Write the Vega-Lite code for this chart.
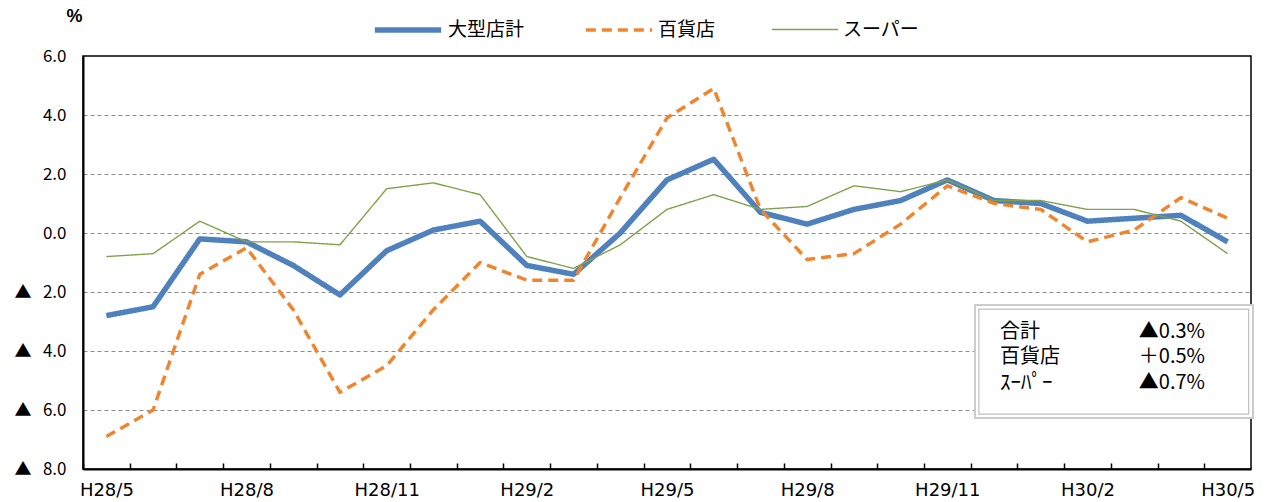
{
  "$schema": "https://vega.github.io/schema/vega-lite/v6.json",
  "width": 1168,
  "height": 413,
  "autosize": {"type": "none"},
  "padding": {"left": 83, "top": 56, "right": 16, "bottom": 33},
  "background": "white",
  "config": {
    "view": {"stroke": "black", "strokeWidth": 1.5},
    "font": "Liberation Sans",
    "legend": {
      "orient": "none",
      "legendX": 289,
      "legendY": -62,
      "direction": "horizontal",
      "title": null,
      "symbolType": "stroke",
      "symbolSize": 4400,
      "labelFontSize": 19,
      "labelFont": "Noto Sans CJK JP",
      "labelColor": "black",
      "columnPadding": 53,
      "labelOffset": 4
    }
  },
  "resolve": {"scale": {"x": "independent"}},
  "layer": [
    {
      "data": {
        "values": [
          {"month": "H28/5", "series": "大型店計", "value": -2.8},
          {"month": "H28/6", "series": "大型店計", "value": -2.5},
          {"month": "H28/7", "series": "大型店計", "value": -0.2},
          {"month": "H28/8", "series": "大型店計", "value": -0.3},
          {"month": "H28/9", "series": "大型店計", "value": -1.1},
          {"month": "H28/10", "series": "大型店計", "value": -2.1},
          {"month": "H28/11", "series": "大型店計", "value": -0.6},
          {"month": "H28/12", "series": "大型店計", "value": 0.1},
          {"month": "H29/1", "series": "大型店計", "value": 0.4},
          {"month": "H29/2", "series": "大型店計", "value": -1.1},
          {"month": "H29/3", "series": "大型店計", "value": -1.4},
          {"month": "H29/4", "series": "大型店計", "value": 0.0},
          {"month": "H29/5", "series": "大型店計", "value": 1.8},
          {"month": "H29/6", "series": "大型店計", "value": 2.5},
          {"month": "H29/7", "series": "大型店計", "value": 0.7},
          {"month": "H29/8", "series": "大型店計", "value": 0.3},
          {"month": "H29/9", "series": "大型店計", "value": 0.8},
          {"month": "H29/10", "series": "大型店計", "value": 1.1},
          {"month": "H29/11", "series": "大型店計", "value": 1.8},
          {"month": "H29/12", "series": "大型店計", "value": 1.1},
          {"month": "H30/1", "series": "大型店計", "value": 1.0},
          {"month": "H30/2", "series": "大型店計", "value": 0.4},
          {"month": "H30/3", "series": "大型店計", "value": 0.5},
          {"month": "H30/4", "series": "大型店計", "value": 0.6},
          {"month": "H30/5", "series": "大型店計", "value": -0.3},
          {"month": "H28/5", "series": "百貨店", "value": -6.9},
          {"month": "H28/6", "series": "百貨店", "value": -6.0},
          {"month": "H28/7", "series": "百貨店", "value": -1.4},
          {"month": "H28/8", "series": "百貨店", "value": -0.5},
          {"month": "H28/9", "series": "百貨店", "value": -2.6},
          {"month": "H28/10", "series": "百貨店", "value": -5.4},
          {"month": "H28/11", "series": "百貨店", "value": -4.5},
          {"month": "H28/12", "series": "百貨店", "value": -2.6},
          {"month": "H29/1", "series": "百貨店", "value": -1.0},
          {"month": "H29/2", "series": "百貨店", "value": -1.6},
          {"month": "H29/3", "series": "百貨店", "value": -1.6},
          {"month": "H29/4", "series": "百貨店", "value": 1.2},
          {"month": "H29/5", "series": "百貨店", "value": 3.9},
          {"month": "H29/6", "series": "百貨店", "value": 4.9},
          {"month": "H29/7", "series": "百貨店", "value": 0.8},
          {"month": "H29/8", "series": "百貨店", "value": -0.9},
          {"month": "H29/9", "series": "百貨店", "value": -0.7},
          {"month": "H29/10", "series": "百貨店", "value": 0.3},
          {"month": "H29/11", "series": "百貨店", "value": 1.6},
          {"month": "H29/12", "series": "百貨店", "value": 1.0},
          {"month": "H30/1", "series": "百貨店", "value": 0.8},
          {"month": "H30/2", "series": "百貨店", "value": -0.3},
          {"month": "H30/3", "series": "百貨店", "value": 0.1},
          {"month": "H30/4", "series": "百貨店", "value": 1.2},
          {"month": "H30/5", "series": "百貨店", "value": 0.5},
          {"month": "H28/5", "series": "スーパー", "value": -0.8},
          {"month": "H28/6", "series": "スーパー", "value": -0.7},
          {"month": "H28/7", "series": "スーパー", "value": 0.4},
          {"month": "H28/8", "series": "スーパー", "value": -0.3},
          {"month": "H28/9", "series": "スーパー", "value": -0.3},
          {"month": "H28/10", "series": "スーパー", "value": -0.4},
          {"month": "H28/11", "series": "スーパー", "value": 1.5},
          {"month": "H28/12", "series": "スーパー", "value": 1.7},
          {"month": "H29/1", "series": "スーパー", "value": 1.3},
          {"month": "H29/2", "series": "スーパー", "value": -0.8},
          {"month": "H29/3", "series": "スーパー", "value": -1.2},
          {"month": "H29/4", "series": "スーパー", "value": -0.4},
          {"month": "H29/5", "series": "スーパー", "value": 0.8},
          {"month": "H29/6", "series": "スーパー", "value": 1.3},
          {"month": "H29/7", "series": "スーパー", "value": 0.8},
          {"month": "H29/8", "series": "スーパー", "value": 0.9},
          {"month": "H29/9", "series": "スーパー", "value": 1.6},
          {"month": "H29/10", "series": "スーパー", "value": 1.4},
          {"month": "H29/11", "series": "スーパー", "value": 1.8},
          {"month": "H29/12", "series": "スーパー", "value": 1.1},
          {"month": "H30/1", "series": "スーパー", "value": 1.1},
          {"month": "H30/2", "series": "スーパー", "value": 0.8},
          {"month": "H30/3", "series": "スーパー", "value": 0.8},
          {"month": "H30/4", "series": "スーパー", "value": 0.4},
          {"month": "H30/5", "series": "スーパー", "value": -0.7}
        ]
      },
      "mark": {"type": "line", "strokeJoin": "round"},
      "encoding": {
        "x": {
          "field": "month",
          "type": "ordinal",
          "sort": null,
          "scale": {"type": "band", "paddingInner": 0, "paddingOuter": 0},
          "axis": {
            "title": null,
            "values": ["H28/5","H28/6","H28/7","H28/8","H28/9","H28/10","H28/11","H28/12","H29/1","H29/2","H29/3","H29/4","H29/5","H29/6","H29/7","H29/8","H29/9","H29/10","H29/11","H29/12","H30/1","H30/2","H30/3","H30/4","H30/5"],
            "labelExpr": "indexof(['H28/5','H28/8','H28/11','H29/2','H29/5','H29/8','H29/11','H30/2','H30/5'], datum.value) >= 0 ? datum.value : ''",
            "labelAngle": 0,
            "labelFont": "DejaVu Sans",
            "labelFontSize": 18,
            "labelColor": "black",
            "labelOverlap": false,
            "labelBound": false,
            "labelPadding": 18,
            "tickOffset": -23.36,
            "labelOffset": 23.36,
            "tickSize": -6,
            "tickColor": "black",
            "tickWidth": 1.5,
            "domainColor": "black",
            "domainWidth": 2,
            "grid": false
          }
        },
        "y": {
          "field": "value",
          "type": "quantitative",
          "scale": {"domain": [-8, 6], "nice": false},
          "axis": {
            "values": [-8, -6, -4, -2, 0, 2, 4, 6],
            "labelExpr": "datum.value < 0 ? '▲\u00a0\u00a0\u00a0' + format(-datum.value, '.1f') : format(datum.value, '.1f')",
            "ticks": false,
            "labelPadding": 17,
            "labelFont": "Noto Sans CJK JP",
            "labelFontSize": 17,
            "labelColor": "black",
            "domainColor": "black",
            "domainWidth": 2,
            "grid": true,
            "gridColor": "#8c8c8c",
            "gridDash": [4, 3],
            "gridWidth": 1.2,
            "gridOpacity": {"condition": {"test": "datum.value == 6 || datum.value == -8", "value": 0}, "value": 1},
            "title": "%",
            "titleAngle": 0,
            "titleX": -1,
            "titleY": -40,
            "titleAlign": "right",
            "titleBaseline": "middle",
            "titleFontSize": 18,
            "titleFontWeight": "bold",
            "titleColor": "black"
          }
        },
        "color": {
          "field": "series",
          "type": "nominal",
          "scale": {"domain": ["大型店計", "百貨店", "スーパー"], "range": ["#4F81BD", "#F0852F", "#7FA24A"]}
        },
        "strokeDash": {
          "field": "series",
          "type": "nominal",
          "scale": {"domain": ["大型店計", "百貨店", "スーパー"], "range": [[1, 0], [10, 6], [1, 0]]}
        },
        "strokeWidth": {
          "field": "series",
          "type": "nominal",
          "scale": {"domain": ["大型店計", "百貨店", "スーパー"], "range": [5.5, 1.4, 1.5]}
        }
      }
    },
    {
      "data": {"values": [{}]},
      "mark": {"type": "rect", "fill": "white", "stroke": "#cccccc", "strokeWidth": 2},
      "encoding": {
        "x": {"datum": 0.7637, "type": "quantitative", "scale": {"domain": [0, 1]}, "axis": null},
        "x2": {"datum": 1.0017},
        "y": {"datum": -2.44, "type": "quantitative"},
        "y2": {"datum": -6.27}
      }
    },
    {
      "data": {"values": [{}]},
      "mark": {"type": "rect", "fill": "white", "stroke": "#c0c0c0", "strokeWidth": 1.2},
      "encoding": {
        "x": {"datum": 0.767, "type": "quantitative", "scale": {"domain": [0, 1]}, "axis": null},
        "x2": {"datum": 0.998},
        "y": {"datum": -2.58, "type": "quantitative"},
        "y2": {"datum": -6.14}
      }
    },
    {
      "data": {"values": [{"label": "合計", "figure": "▲0.3%"}]},
      "layer": [
        {
          "mark": {"type": "text", "align": "left", "baseline": "middle", "font": "Noto Sans CJK JP", "fontSize": 20, "color": "black"},
          "encoding": {
            "x": {"datum": 0.785, "type": "quantitative", "scale": {"domain": [0, 1]}, "axis": null},
            "y": {"datum": -3.36, "type": "quantitative"},
            "text": {"field": "label"}
          }
        },
        {
          "mark": {"type": "text", "align": "right", "baseline": "middle", "font": "Noto Sans CJK JP", "fontSize": 20, "color": "black"},
          "encoding": {
            "x": {"datum": 0.9606, "type": "quantitative", "scale": {"domain": [0, 1]}, "axis": null},
            "y": {"datum": -3.36, "type": "quantitative"},
            "text": {"field": "figure"}
          }
        }
      ]
    },
    {
      "data": {"values": [{"label": "百貨店", "figure": "＋0.5%"}]},
      "layer": [
        {
          "mark": {"type": "text", "align": "left", "baseline": "middle", "font": "Noto Sans CJK JP", "fontSize": 20, "color": "black"},
          "encoding": {
            "x": {"datum": 0.785, "type": "quantitative", "scale": {"domain": [0, 1]}, "axis": null},
            "y": {"datum": -4.2, "type": "quantitative"},
            "text": {"field": "label"}
          }
        },
        {
          "mark": {"type": "text", "align": "right", "baseline": "middle", "font": "Noto Sans CJK JP", "fontSize": 20, "color": "black"},
          "encoding": {
            "x": {"datum": 0.9606, "type": "quantitative", "scale": {"domain": [0, 1]}, "axis": null},
            "y": {"datum": -4.2, "type": "quantitative"},
            "text": {"field": "figure"}
          }
        }
      ]
    },
    {
      "data": {"values": [{"label": "ｽｰﾊﾟｰ", "figure": "▲0.7%"}]},
      "layer": [
        {
          "mark": {"type": "text", "align": "left", "baseline": "middle", "font": "Noto Sans CJK JP", "fontSize": 21, "color": "black"},
          "encoding": {
            "x": {"datum": 0.785, "type": "quantitative", "scale": {"domain": [0, 1]}, "axis": null},
            "y": {"datum": -5.08, "type": "quantitative"},
            "text": {"field": "label"}
          }
        },
        {
          "mark": {"type": "text", "align": "right", "baseline": "middle", "font": "Noto Sans CJK JP", "fontSize": 20, "color": "black"},
          "encoding": {
            "x": {"datum": 0.9606, "type": "quantitative", "scale": {"domain": [0, 1]}, "axis": null},
            "y": {"datum": -5.08, "type": "quantitative"},
            "text": {"field": "figure"}
          }
        }
      ]
    }
  ]
}
